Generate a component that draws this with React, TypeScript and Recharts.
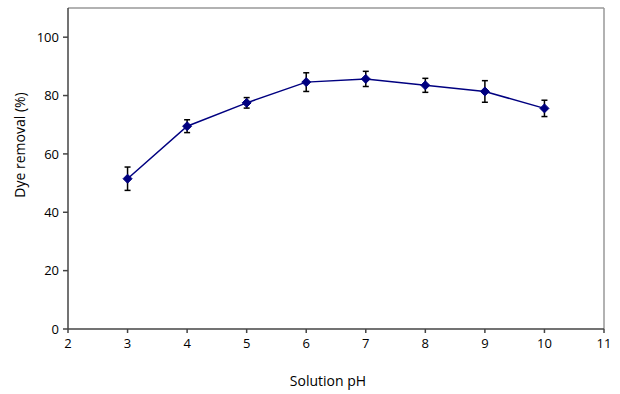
import React from "react";
import {
  LineChart,
  Line,
  XAxis,
  YAxis,
  ErrorBar,
  ReferenceLine,
} from "recharts";

const phValues = [3, 4, 5, 6, 7, 8, 9, 10];
const removal = [51.5, 69.5, 77.5, 84.6, 85.7, 83.5, 81.4, 75.6];
const removalErr = [4.0, 2.2, 1.8, 3.2, 2.6, 2.4, 3.7, 2.8];
const xTicks = [2, 3, 4, 5, 6, 7, 8, 9, 10, 11];
const yTicks = [0, 20, 40, 60, 80, 100];

const data = phValues.map((ph, i) => ({ ph, removal: removal[i], err: removalErr[i] }));

const FONT = "'Open Sans', 'Noto Sans', sans-serif";
const NAVY = "#000080";

function Diamond(props: any) {
  const { cx, cy, index } = props;
  if (cx == null || cy == null) return null;
  const r = 4.5;
  return (
    <polygon
      key={`d-${index}`}
      points={`${cx},${cy - r} ${cx + r},${cy} ${cx},${cy + r} ${cx - r},${cy}`}
      fill={NAVY}
      stroke={NAVY}
    />
  );
}

export default function App() {
  return (
    <div style={{ position: "absolute", left: 0, top: 0, width: 620, height: 394, background: "#fff" }}>
      <LineChart
        width={620}
        height={394}
        data={data}
        margin={{ top: 8, right: 16, bottom: 35, left: 20 }}
      >
        <ReferenceLine y={110} stroke="#999" strokeWidth={1.5} ifOverflow="visible" />
        <ReferenceLine x={11} stroke="#999" strokeWidth={1.5} ifOverflow="visible" />
        <XAxis
          dataKey="ph"
          type="number"
          domain={[2, 11]}
          ticks={xTicks}
          interval={0}
          height={30}
          stroke="#444"
          strokeWidth={1.5}
          tickSize={4}
          tick={{ fill: "#000", fontSize: 13, fontFamily: FONT }}
          tickMargin={6}
          label={{
            content: () => (
              <text x={328} y={386} textAnchor="middle" fontSize={14} fontFamily={FONT} fill="#000">
                Solution pH
              </text>
            ),
          }}
        />
        <YAxis
          type="number"
          domain={[0, 110]}
          ticks={yTicks}
          interval={0}
          width={48}
          stroke="#444"
          strokeWidth={1.5}
          tickSize={5}
          tick={{ fill: "#000", fontSize: 13, fontFamily: FONT }}
          tickMargin={4}
          label={{
            content: () => (
              <text
                x={25}
                y={145}
                transform="rotate(-90, 25, 145)"
                textAnchor="middle"
                fontSize={14}
                fontFamily={FONT}
                fill="#000"
              >
                Dye removal (%)
              </text>
            ),
          }}
        />
        <Line
          dataKey="removal"
          stroke={NAVY}
          strokeWidth={1.5}
          dot={<Diamond />}
          activeDot={false}
          isAnimationActive={false}
        >
          <ErrorBar dataKey="err" width={3} stroke="#000" strokeWidth={1.5} direction="y" />
        </Line>
      </LineChart>
    </div>
  );
}
